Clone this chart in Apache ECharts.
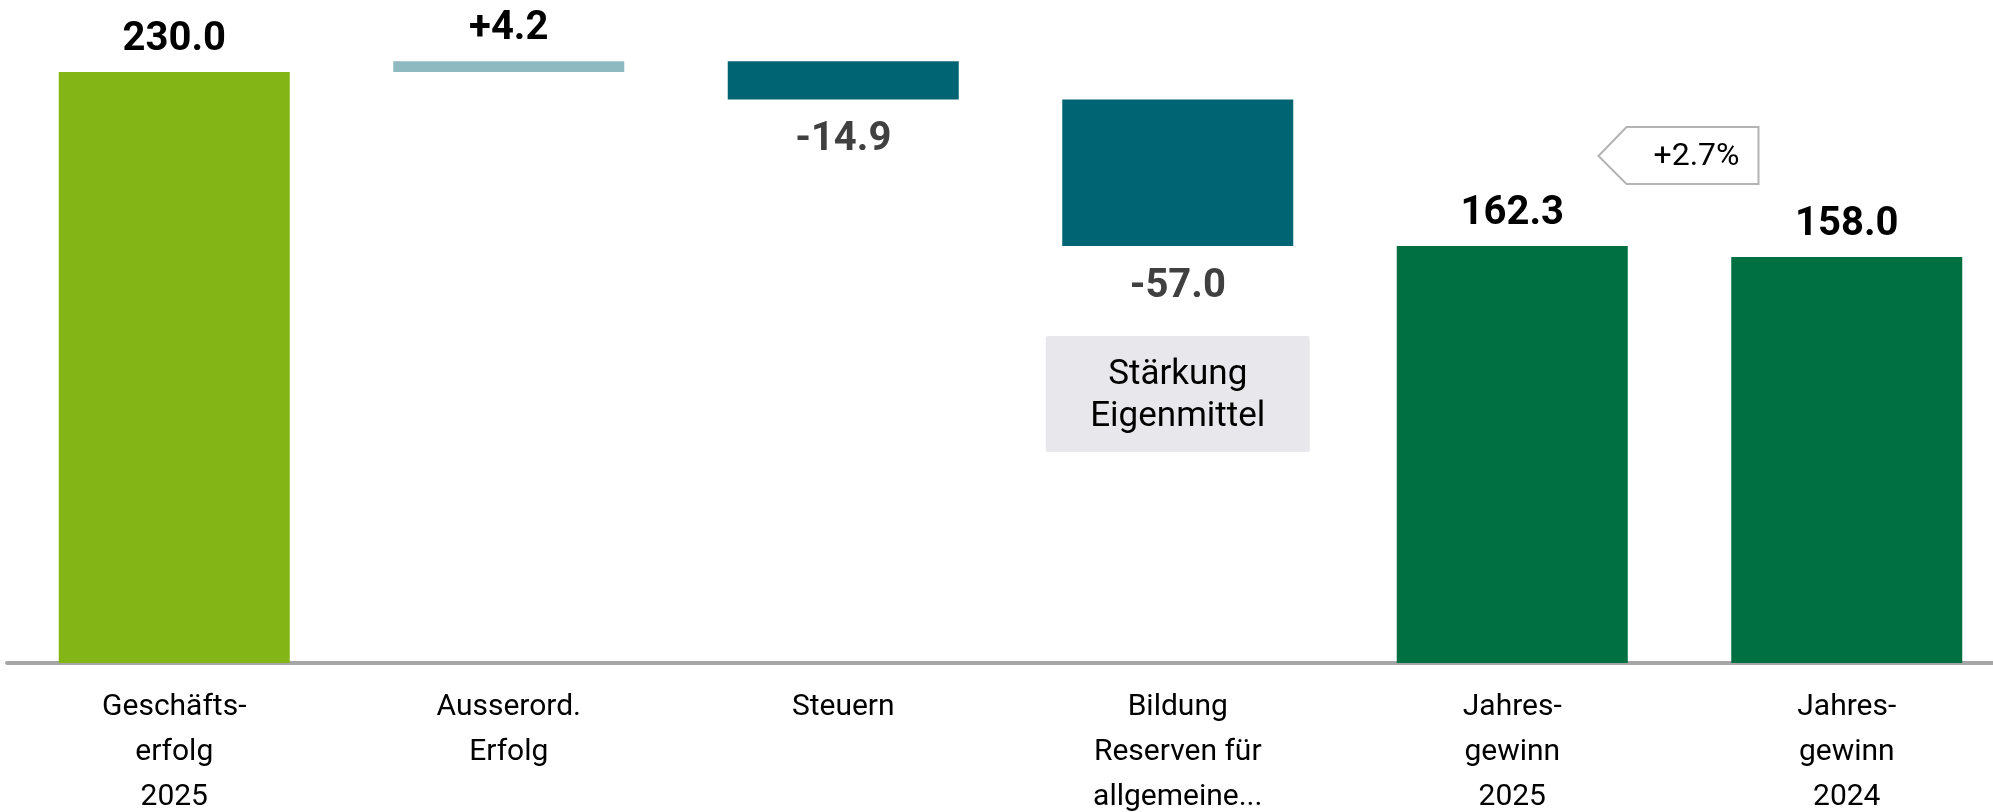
<!DOCTYPE html>
<html>
<head>
<meta charset="utf-8">
<script src="https://cdn.jsdelivr.net/npm/echarts@6/dist/echarts.min.js"></script>
<style>
  html, body { margin: 0; padding: 0; background: #fff; }
  #chart { width: 1993px; height: 812px; }
</style>
</head>
<body>
<div id="chart"></div>
<script>
  // Werte aus dem Bild
  var categories = ['Geschäfts-\nerfolg\n2025', 'Ausserord.\nErfolg', 'Steuern', 'Bildung\nReserven für\nallgemeine...', 'Jahres-\ngewinn\n2025', 'Jahres-\ngewinn\n2024']
  var values = [230.0, 4.2, -14.9, -57.0, 162.3, 158.0]
  var isTotal = [true, false, false, false, true, true]
  var barColors = ['#84b517', '#8fb9c1', '#006473', '#006473', '#006f42', '#006f42']
  var noteText = 'Stärkung\nEigenmittel'
  var changeText = '+2.7%'

  // Basis und Höhe für den Wasserfall
  var baseData = []
  var barData = []
  var running = 0
  values.forEach(function (v, i) {
    var base, h
    if (isTotal[i]) {
      base = 0
      h = v
      running = v
    } else {
      base = v >= 0 ? running : running + v
      h = Math.abs(v)
      running = running + v
    }
    baseData.push(base)
    var neg = !isTotal[i] && v < 0
    var txt = isTotal[i] ? v.toFixed(1) : (v > 0 ? '+' : '') + v.toFixed(1)
    barData.push({
      value: h,
      itemStyle: {color: barColors[i]},
      label: {
        formatter: txt,
        position: neg ? 'bottom' : 'top',
        distance: neg ? 21 : 12,
        color: neg ? '#404040' : '#000'
      }
    })
  })

  var chart = echarts.init(document.getElementById('chart'))

  chart.setOption({
    animation: false,
    grid: {left: 7, right: -21, top: 0, bottom: 149, containLabel: false, outerBoundsMode: 'none'},
    xAxis: {
      type: 'category',
      data: categories,
      axisTick: {show: false},
      axisLine: {lineStyle: {color: '#a6a6a6', width: 4}},
      axisLabel: {
        interval: 0,
        margin: 22,
        fontFamily: 'Roboto',
        fontSize: 30,
        lineHeight: 45,
        color: '#000'
      }
    },
    yAxis: {
      type: 'value',
      min: 0,
      max: 258,
      show: false,
      splitLine: {show: false}
    },
    series: [
      {
        name: 'base',
        type: 'bar',
        stack: 'w',
        barWidth: 231,
        silent: true,
        itemStyle: {color: 'transparent'},
        data: baseData
      },
      {
        name: 'wert',
        type: 'bar',
        stack: 'w',
        barWidth: 231,
        label: {
          show: true,
          fontFamily: 'Roboto',
          fontWeight: 'bold',
          fontSize: 40
        },
        data: barData
      }
    ]
  })

  // Anmerkungen an den Kategorien ausrichten
  var x3 = chart.convertToPixel({xAxisIndex: 0}, 3)
  var x4 = chart.convertToPixel({xAxisIndex: 0}, 4)
  var x5 = chart.convertToPixel({xAxisIndex: 0}, 5)
  var mid = (x4 + x5) / 2

  chart.setOption({
    graphic: [
      {
        type: 'group',
        children: [
          {
            type: 'rect',
            shape: {x: x3 - 132, y: 336, width: 264, height: 116, r: 2},
            style: {fill: '#e8e8ec'}
          },
          {
            type: 'text',
            x: x3,
            y: 396,
            style: {
              text: noteText,
              fontFamily: 'Roboto',
              fontSize: 35,
              lineHeight: 42,
              fill: '#000',
              align: 'center',
              verticalAlign: 'middle'
            }
          },
          {
            type: 'polygon',
            shape: {points: [[mid - 81, 156], [mid - 53, 127], [mid + 79, 127], [mid + 79, 184], [mid - 53, 184]]},
            style: {fill: '#fff', stroke: '#b3b3b3', lineWidth: 2}
          },
          {
            type: 'text',
            x: mid + 17,
            y: 157,
            style: {
              text: changeText,
              fontFamily: 'Roboto',
              fontSize: 32,
              fill: '#000',
              align: 'center',
              verticalAlign: 'middle'
            }
          }
        ]
      }
    ]
  })
</script>
</body>
</html>
